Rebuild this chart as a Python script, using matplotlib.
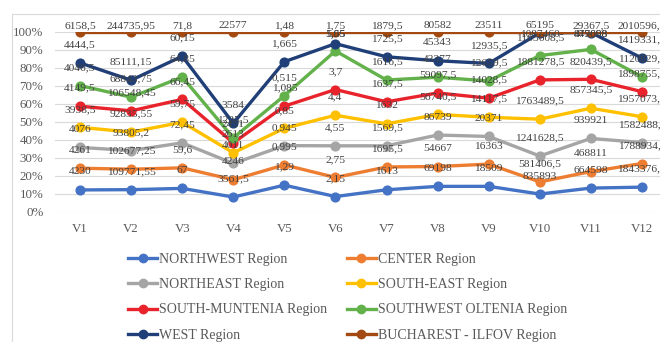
import numpy as np
import matplotlib
matplotlib.use('Agg')
from matplotlib import pyplot as plt
from matplotlib.lines import Line2D
from matplotlib.patches import Rectangle

# regioes de desenvolvimento, na ordem de empilhamento (de baixo para cima)
periodos = ['V1', 'V2', 'V3', 'V4', 'V5', 'V6', 'V7', 'V8', 'V9', 'V10', 'V11', 'V12']

northwest = [4230, 109771.55, 67, 3561.5, 1.29, 2.15, 1613, 69198, 18509, 835893, 664598, 1843376.5]
center = [4261, 102677.25, 59.6, 4246, 0.995, 2.75, 1695.5, 54667, 16363, 581406.5, 468811, 1788934.5]
northeast = [4076, 93805.2, 72.45, 4011, 0.945, 4.55, 1569.5, 86739, 20371, 1241628.5, 939921, 1582488.5]
south_east = [3938.5, 92835.55, 59.75, 2613, 0.85, 4.4, 1632, 56740.5, 14117.5, 1763489.5, 857345.5, 1957073.5]
south_muntenia = [4149.5, 106548.45, 66.45, 2451, 1.085, 3.7, 1637.5, 59097.5, 14028.5, 1881278.5, 820439.5, 1898755.5]
southwest_oltenia = [4046.5, 68843.75, 64.85, 1225.5, 0.515, 5.55, 1616.5, 43377, 12659.5, 1165608.5, 847698, 1120829.5]
west = [4444.5, 85111.15, 60.15, 3584, 1.665, 1.05, 1725.5, 45343, 12935.5, 1087460, 479098, 1419331.5]
bucharest = [6158.5, 244735.95, 71.8, 22577, 1.48, 1.75, 1879.5, 80582, 23511, 65195, 29367.5, 2010596.5]

series = [
    ('NORTHWEST Region', northwest, '#4472C4'),
    ('CENTER Region', center, '#ED7D31'),
    ('NORTHEAST Region', northeast, '#A5A5A5'),
    ('SOUTH-EAST Region', south_east, '#FFC000'),
    ('SOUTH-MUNTENIA Region', south_muntenia, '#E8232B'),
    ('SOUTHWEST OLTENIA Region', southwest_oltenia, '#62B14A'),
    ('WEST Region', west, '#203F78'),
    ('BUCHAREST - ILFOV Region', bucharest, '#A24A12'),
]

plt.rcParams['font.family'] = ['Liberation Serif', 'DejaVu Serif']


def rotulo(v):
    s = ('%.3f' % v).rstrip('0').rstrip('.')
    return s.replace('.', ',')


valores = np.array([s[1] for s in series], dtype=float)
total = valores.sum(axis=0)
acumulado = np.cumsum(valores, axis=0) / total * 100  # linhas empilhadas em 100%

fig = plt.figure(figsize=(6.6, 3.42), dpi=100)
ax = fig.add_axes([54.5 / 660, 1 - 211.5 / 342, 613 / 660, 180 / 342])
x = np.arange(len(periodos))

handles = []
for k, (nome, vals, cor) in enumerate(series):
    ax.plot(x, acumulado[k], color=cor, linewidth=2.4, marker='o', markersize=6.3,
            solid_joinstyle='miter', zorder=3 + k * 0.01)
    handles.append(Line2D([], [], color=cor, linewidth=2.4, marker='o', markersize=6, label=nome))

# rotulos de dados acima de cada ponto (valor bruto)
for k, (nome, vals, cor) in enumerate(series):
    for i in range(len(periodos)):
        if k == len(series) - 1:
            y = 103.2
        else:
            y = min(acumulado[k, i] + 10, 98.5)
        ax.text(i, y, rotulo(vals[i]), ha='center', va='center', fontsize=8.2,
                color='#404040', clip_on=False, zorder=10)

ax.set_xlim(-0.5, 11.5)
ax.set_ylim(0, 100)
ax.set_yticks(np.arange(0, 101, 10))
ax.set_yticklabels(['%d%%' % v for v in range(0, 101, 10)])
ax.set_xticks(x)
ax.set_xticklabels(periodos)
ax.tick_params(length=0, labelsize=9.3, colors='#595959')
ax.tick_params(axis='y', pad=8)
ax.tick_params(axis='x', pad=8)
ax.grid(axis='y', color='#D9D9D9', linewidth=0.8, zorder=0)
for s in ax.spines.values():
    s.set_visible(False)

# borda da area do grafico
fig.add_artist(Rectangle((12 / 660, -0.2), 1.2, 1.2 - 14 / 342, transform=fig.transFigure,
                         facecolor='none', edgecolor='#D9D9D9', linewidth=0.8))

ordem = [0, 2, 4, 6, 1, 3, 5, 7]
fig.legend([handles[i] for i in ordem], [series[i][0] for i in ordem], ncol=2,
           loc='upper left', bbox_to_anchor=(128 / 660, 1 - 253 / 342), frameon=False,
           fontsize=10, labelcolor='#595959', handlelength=2.1, handletextpad=0.15,
           columnspacing=1.4, labelspacing=0.88, borderpad=0, borderaxespad=0)

fig.savefig('out.png', dpi=100)
